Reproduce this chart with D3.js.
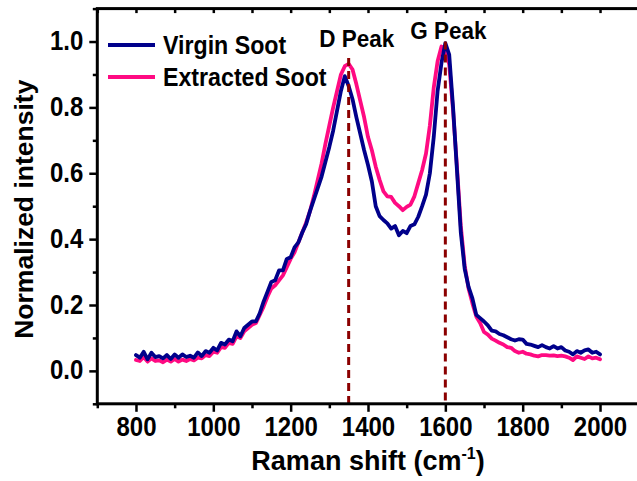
<!DOCTYPE html>
<html>
<head>
<meta charset="utf-8">
<script src="https://cdn.jsdelivr.net/npm/d3@7"></script>
<style>
  html, body { margin: 0; padding: 0; background: #fff; }
  svg { display: block; font-family: "Liberation Sans", Arial, sans-serif; font-weight: bold; }
</style>
</head>
<body>
<svg id="chart" width="637" height="481"></svg>
<script>
// ---- data ----
const ramanShift = d3.range(800, 2001, 10);
const virginSoot = [
  .048, .040, .058, .035, .055, .042, .045, .038, .048, .036,
  .050, .040, .050, .042, .046, .040, .056, .045, .060, .055,
  .070, .062, .085, .080, .095, .090, .120, .105, .130, .140,
  .150, .150, .175, .210, .240, .270, .275, .305, .305, .340,
  .345, .375, .390, .420, .445, .485, .520, .555, .590, .635,
  .680, .730, .790, .850, .895, .865, .825, .770, .720, .670,
  .625, .575, .500, .470, .458, .448, .432, .440, .412, .425,
  .418, .440, .445, .468, .500, .535, .600, .710, .850, .935,
  .995, .960, .800, .610, .420, .310, .255, .220, .170, .160,
  .150, .138, .122, .120, .112, .108, .102, .096, .092, .096,
  .095, .082, .080, .076, .072, .078, .072, .068, .075, .068,
  .072, .062, .058, .050, .060, .055, .062, .065, .055, .058,
  .050
];
const extractedSoot = [
  .033, .030, .042, .028, .038, .030, .032, .026, .034, .028,
  .036, .028, .034, .030, .036, .032, .040, .038, .048, .045,
  .058, .055, .072, .070, .085, .082, .105, .100, .120, .130,
  .140, .145, .170, .195, .225, .250, .260, .275, .290, .315,
  .340, .360, .390, .420, .450, .485, .530, .580, .630, .690,
  .745, .800, .850, .900, .925, .932, .915, .870, .820, .770,
  .710, .670, .620, .580, .545, .530, .528, .510, .500, .488,
  .498, .505, .530, .570, .610, .660, .745, .860, .940, .985,
  .975, .930, .790, .620, .440, .320, .250, .205, .165, .145,
  .118, .110, .098, .092, .085, .080, .072, .070, .060, .055,
  .058, .052, .050, .046, .044, .048, .048, .046, .047, .045,
  .046, .044, .040, .033, .044, .040, .036, .044, .038, .040,
  .035
];
const seriesNames = ["Virgin Soot", "Extracted Soot"];
const seriesColors = ["#00008B", "#FF0A82"];
const xTicks = [800, 1000, 1200, 1400, 1600, 1800, 2000];
const xMinorTicks = [700, 900, 1100, 1300, 1500, 1700, 1900, 2100];
const yTicks = [0.0, 0.2, 0.4, 0.6, 0.8, 1.0];
const yMinorTicks = [-0.1, 0.1, 0.3, 0.5, 0.7, 0.9, 1.1];
const peakNames = ["D Peak", "G Peak"];
const peakShift = [1350, 1600];
const peakTop = [0.95, 1.0];

// ---- layout ----
const svg = d3.select("#chart");
const x = d3.scaleLinear().domain([700, 2100]).range([97.3, 638.7]);
const y = d3.scaleLinear().domain([-0.1, 1.1]).range([403.8, 8.6]);

const line = d3.line().x(d => x(d[0])).y(d => y(d[1]));
const series = [virginSoot, extractedSoot];

// curves: extracted first, virgin on top
[1, 0].forEach(i => {
  svg.append("path")
    .datum(ramanShift.map((s, k) => [s, series[i][k]]))
    .attr("d", line)
    .attr("fill", "none")
    .attr("stroke", seriesColors[i])
    .attr("stroke-width", 3.8)
    .attr("stroke-linejoin", "round")
    .attr("stroke-linecap", "round");
});

// peak dashed lines
peakShift.forEach((p, i) => {
  svg.append("line")
    .attr("x1", x(p)).attr("x2", x(p))
    .attr("y1", y(peakTop[i])).attr("y2", y(-0.1))
    .attr("stroke", "#8B0000")
    .attr("stroke-width", 3)
    .attr("stroke-dasharray", "8,5");
});
// peak labels
peakNames.forEach((t, i) => {
  svg.append("text")
    .attr("transform", `translate(${x(peakShift[i]) + (i === 0 ? 8 : 3)},${y(peakTop[i]) - (i === 0 ? 11 : 3)}) scale(1,1.06)`)
    .attr("text-anchor", "middle")
    .attr("font-size", 22.5)
    .attr("fill", "#000")
    .text(t);
});

// axes
const fontTick = 24;
const stretch = 1.12;
const gx = svg.append("g").attr("transform", `translate(0,${y(-0.1)})`)
  .call(d3.axisBottom(x).tickValues(xTicks).tickFormat(d3.format("d")).tickSize(8).tickPadding(6));
const gxm = svg.append("g").attr("transform", `translate(0,${y(-0.1)})`)
  .call(d3.axisBottom(x).tickValues(xMinorTicks).tickFormat("").tickSize(4.5));
const gxt = svg.append("g").attr("transform", `translate(0,${y(1.1)})`)
  .call(d3.axisTop(x).tickValues(d3.range(700, 2101, 100)).tickFormat("").tickSize(-4.5));
const gy = svg.append("g").attr("transform", `translate(${x(700)},0)`)
  .call(d3.axisLeft(y).tickValues(yTicks).tickFormat(d3.format(".1f")).tickSize(8).tickPadding(6));
const gym = svg.append("g").attr("transform", `translate(${x(700)},0)`)
  .call(d3.axisLeft(y).tickValues(yMinorTicks).tickFormat("").tickSize(4.5));

[gx, gxm, gxt, gy, gym].forEach(g => {
  g.select(".domain").remove();
  g.selectAll(".tick line").attr("stroke", "#000").attr("stroke-width", 2.5);
  g.selectAll(".tick text")
    .attr("fill", "#000")
    .attr("font-size", fontTick)
    .attr("font-weight", "bold")
    .attr("font-family", "'Liberation Sans', Arial, sans-serif");
});
// vertically stretched tick labels, as in the reference
gx.selectAll(".tick text").attr("y", 12.7 / stretch).attr("transform", `scale(1,${stretch})`);
gy.selectAll(".tick text").attr("transform", `scale(1,${stretch})`).attr("dy", "0.30em");

// frame
svg.append("rect")
  .attr("x", x(700)).attr("y", y(1.1))
  .attr("width", x(2100) - x(700)).attr("height", y(-0.1) - y(1.1))
  .attr("fill", "none").attr("stroke", "#000").attr("stroke-width", 3);

// axis titles
const xt = svg.append("text")
  .attr("x", (x(700) + x(2100)) / 2)
  .attr("y", 470)
  .attr("text-anchor", "middle")
  .attr("font-size", 27)
  .attr("fill", "#000");
xt.append("tspan").text("Raman shift (cm");
xt.append("tspan").attr("font-size", 16).attr("dy", -11).text("-1");
xt.append("tspan").attr("dy", 11).text(")");

svg.append("text")
  .attr("transform", `translate(32.5,${(y(1.1) + y(-0.1)) / 2 + 3}) rotate(-90)`)
  .attr("text-anchor", "middle")
  .attr("font-size", 26.5)
  .attr("fill", "#000")
  .text("Normalized intensity");

// legend
seriesNames.forEach((n, i) => {
  const ly = 45 + i * 32;
  svg.append("line")
    .attr("x1", 108).attr("x2", 155)
    .attr("y1", ly).attr("y2", ly)
    .attr("stroke", seriesColors[i]).attr("stroke-width", 4);
  svg.append("text")
    .attr("transform", `translate(163,${ly + 8.5}) scale(1,1.08)`)
    .attr("font-size", 23.2)
    .attr("fill", "#000")
    .text(n);
});
</script>
</body>
</html>
